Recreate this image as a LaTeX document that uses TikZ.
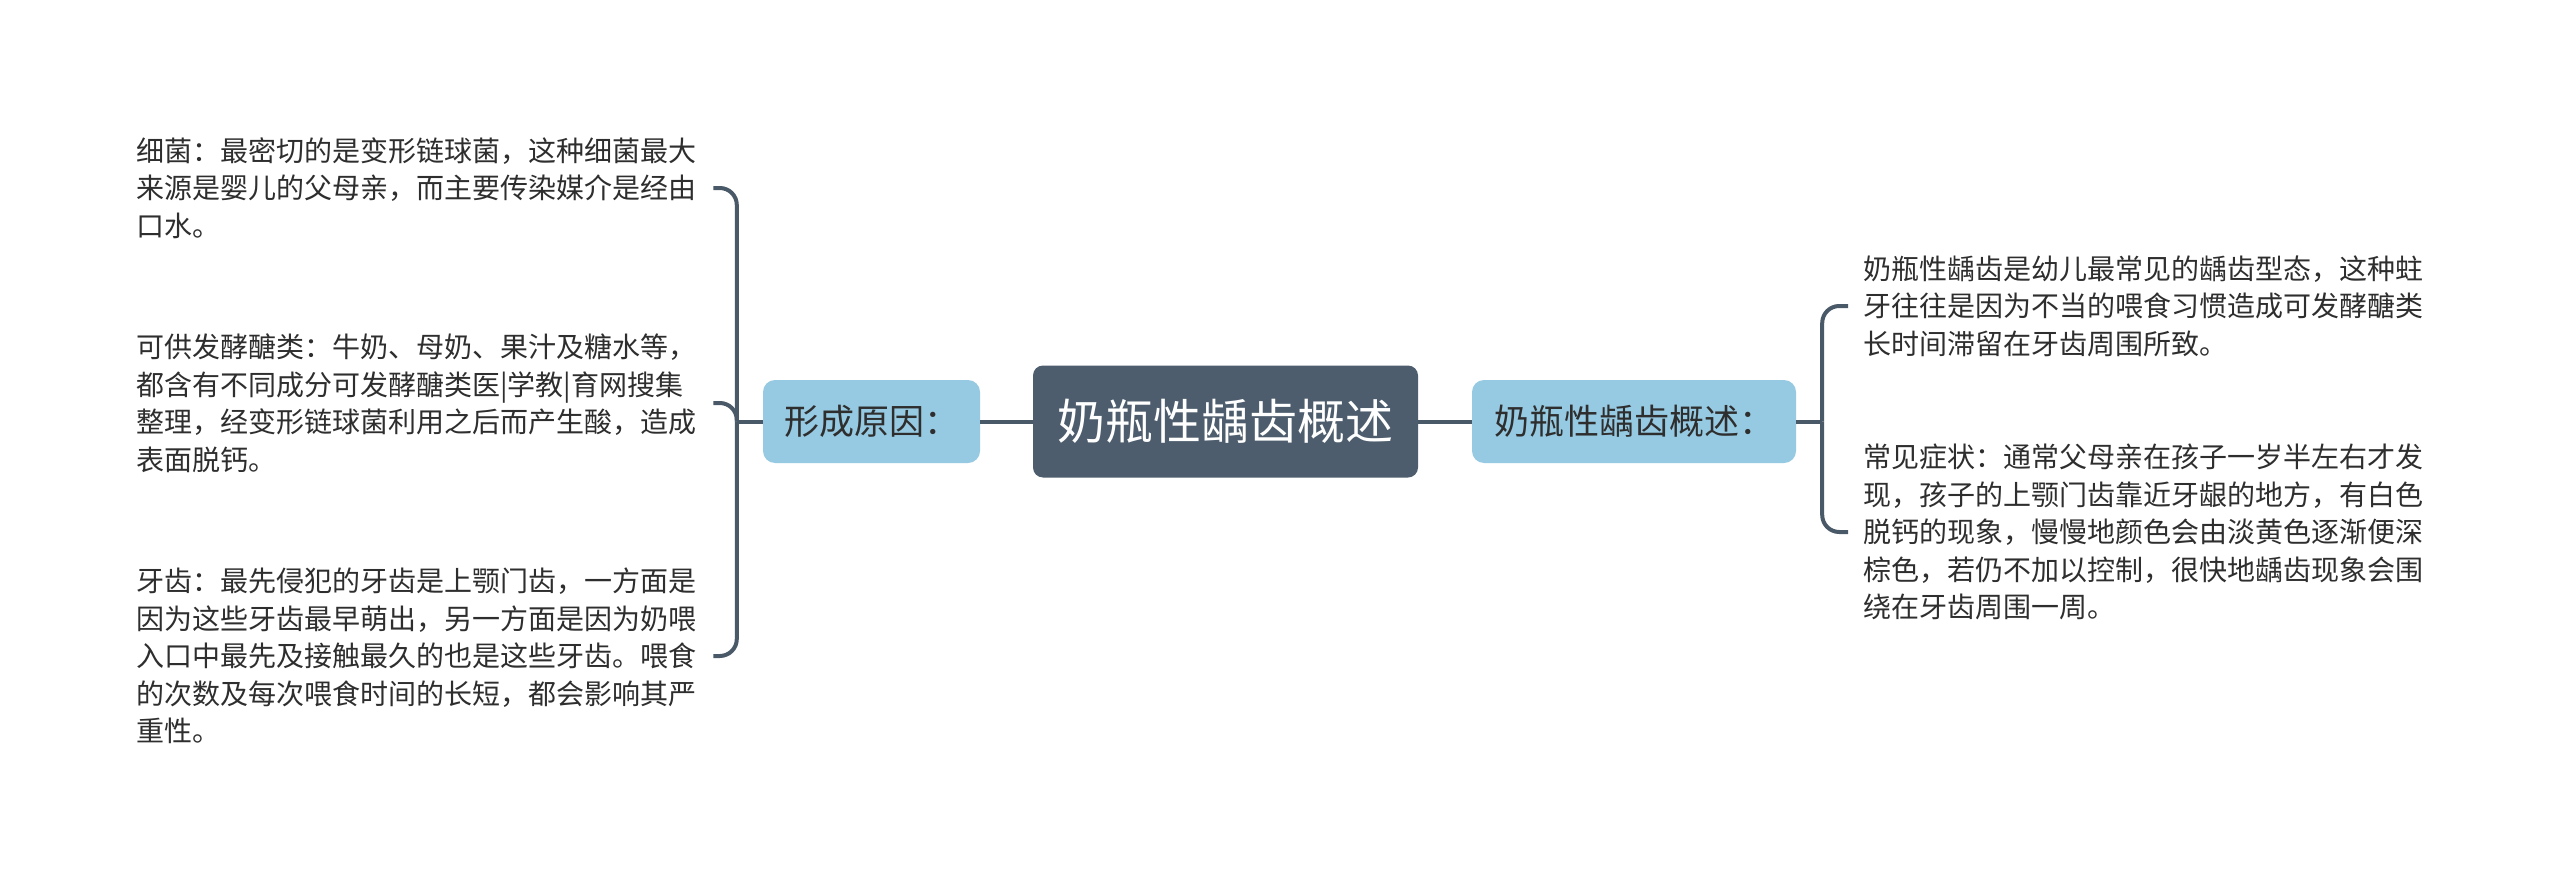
\documentclass[tikz,border=0pt]{standalone}
\usepackage{fontspec}
\setmainfont{Noto Sans CJK SC}
\usetikzlibrary{calc}
\definecolor{rootfill}{HTML}{4D5D6D}
\definecolor{midfill}{HTML}{96CAE2}
\definecolor{linec}{HTML}{4A5968}
\definecolor{txt}{HTML}{2E2E2E}
\begin{document}
\begin{tikzpicture}[x=1pt,y=-1pt,
  rootbox/.style={fill=rootfill, rounded corners=10pt, text=white, inner sep=0pt,
    font=\fontsize{48pt}{56pt}\selectfont, minimum width=385pt, minimum height=112pt},
  midbox/.style={fill=midfill, rounded corners=12pt, text=txt, inner sep=0pt,
    font=\fontsize{35pt}{42pt}\selectfont, minimum height=83pt},
  leafbox/.style={text=txt, inner xsep=15pt, inner ysep=0pt, align=left,
    text width=562pt, font=\fontsize{28pt}{37.5pt}\selectfont},
  conn/.style={draw=linec, line width=4pt},
  bendconn/.style={conn, rounded corners=17pt}
]
\useasboundingbox (0,0) rectangle (2560,880);
\fill[white] (0,0) rectangle (2560,880);

\node[rootbox] (root) at (1225.5,421.5) {奶瓶性龋齿概述};
\node[midbox, minimum width=217pt] (L) at (871.5,421.5) {形成原因：};
\node[midbox, minimum width=324pt] (R) at (1634,421.5) {奶瓶性龋齿概述：};

\node[leafbox, anchor=west] (l1) at (121,188) {细菌：最密切的是变形链球菌，这种细菌最大\\来源是婴儿的父母亲，而主要传染媒介是经由\\口水。};
\node[leafbox, anchor=west] (l2) at (121,403) {可供发酵醣类：牛奶、母奶、果汁及糖水等，\\都含有不同成分可发酵醣类医|学教|育网搜集\\整理，经变形链球菌利用之后而产生酸，造成\\表面脱钙。};
\node[leafbox, anchor=west] (l3) at (121,656) {牙齿：最先侵犯的牙齿是上颚门齿，一方面是\\因为这些牙齿最早萌出，另一方面是因为奶喂\\入口中最先及接触最久的也是这些牙齿。喂食\\的次数及每次喂食时间的长短，都会影响其严\\重性。};

\node[leafbox, anchor=west] (r1) at (1848,306) {奶瓶性龋齿是幼儿最常见的龋齿型态，这种蛀\\牙往往是因为不当的喂食习惯造成可发酵醣类\\长时间滞留在牙齿周围所致。};
\node[leafbox, anchor=west] (r2) at (1848,532) {常见症状：通常父母亲在孩子一岁半左右才发\\现，孩子的上颚门齿靠近牙龈的地方，有白色\\脱钙的现象，慢慢地颜色会由淡黄色逐渐便深\\棕色，若仍不加以控制，很快地龋齿现象会围\\绕在牙齿周围一周。};

\draw[conn] (root.west) -- (L.east);
\draw[conn] (root.east) -- (R.west);

\draw[conn] (L.west) -- ++(-26,0) coordinate (lj);
\draw[bendconn] (lj) |- (l1.east);
\draw[bendconn] (lj) |- (l2.east);
\draw[bendconn] (lj) |- (l3.east);

\draw[conn] (R.east) -- ++(26,0) coordinate (rj);
\draw[bendconn] (rj) |- (r1.west);
\draw[bendconn] (rj) |- (r2.west);
\end{tikzpicture}
\end{document}
